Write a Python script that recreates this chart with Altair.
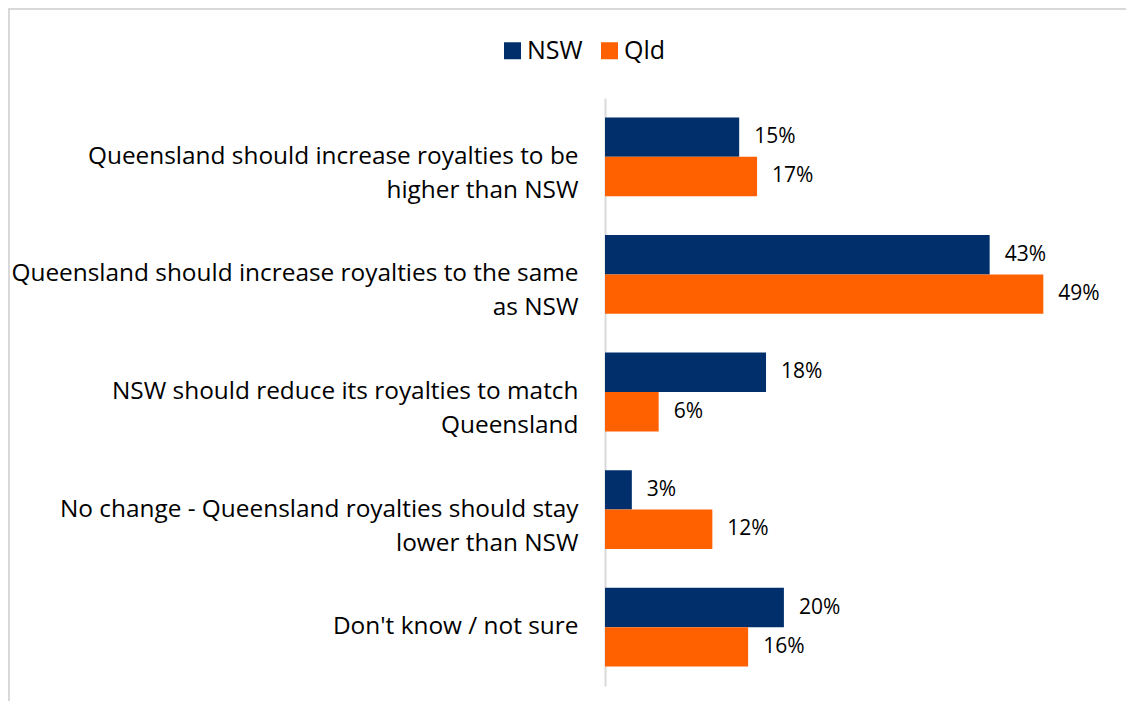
import altair as alt
import pandas as pd

categories = [
    "Queensland should increase royalties to be|higher than NSW",
    "Queensland should increase royalties to the same|as NSW",
    "NSW should reduce its royalties to match|Queensland",
    "No change - Queensland royalties should stay|lower than NSW",
    "Don't know / not sure",
]
series = ["NSW", "Qld"]
nsw_values = [15, 43, 18, 3, 20]
qld_values = [17, 49, 6, 12, 16]
colors = ["#002F6C", "#FF6000"]

rows = []
for c, a, b in zip(categories, nsw_values, qld_values):
    rows.append({"category": c, "series": "NSW", "value": a})
    rows.append({"category": c, "series": "Qld", "value": b})
df = pd.DataFrame(rows)

FONT = "Open Sans"
PAD_L, PAD_T = 597, 90

base = alt.Chart(df).encode(
    y=alt.Y(
        "category:N",
        sort=categories,
        scale=alt.Scale(paddingInner=0.33, paddingOuter=0.165),
        axis=alt.Axis(
            title=None,
            labelExpr="split(datum.label, '|')",
            labelFontSize=24.4,
            labelFont=FONT,
            labelColor="#000000",
            labelPadding=27,
            labelLineHeight=34,
            labelLimit=900,
            ticks=False,
            domainColor="#D9D9D9",
            domainWidth=2,
        ),
    ),
    yOffset=alt.YOffset("series:N", sort=series, scale=alt.Scale(paddingInner=0, paddingOuter=0)),
    x=alt.X("value:Q", scale=alt.Scale(domain=[0, 55]), axis=None),
)

bars = base.mark_bar().encode(
    color=alt.Color(
        "series:N",
        sort=series,
        scale=alt.Scale(domain=series, range=colors),
        legend=alt.Legend(
            title=None,
            orient="none",
            direction="horizontal",
            legendX=-105,
            legendY=-60,
            symbolType="square",
            symbolSize=289,
            symbolStrokeWidth=0,
            labelFont=FONT,
            labelFontSize=25,
            labelColor="#000000",
            labelOffset=2,
            columnPadding=14,
        ),
    )
)

labels = base.mark_text(
    align="left", baseline="middle", dx=15, fontSize=21, font=FONT, color="#000000"
).encode(text=alt.Text("label:N")).transform_calculate(label="datum.value + '%'")

# faint outer frame of the chart (decoration)
frame = alt.Chart(alt.Data(values=[{}])).mark_rect(
    filled=False, stroke="#D9D9D9", strokeWidth=2
).encode(
    x=alt.value(-(PAD_L - 1)),
    x2=alt.value(700),
    y=alt.value(-(PAD_T - 1)),
    y2=alt.value(700),
)

chart = (
    alt.layer(frame, bars, labels)
    .properties(
        width=492,
        height=588,
        autosize=alt.AutoSizeParams(type="none"),
        padding={"left": PAD_L, "top": PAD_T, "right": 29, "bottom": 15},
        background="white",
    )
    .configure_view(stroke=None)
)

chart.save("out.html", embed_options={"renderer": "svg", "actions": False})
